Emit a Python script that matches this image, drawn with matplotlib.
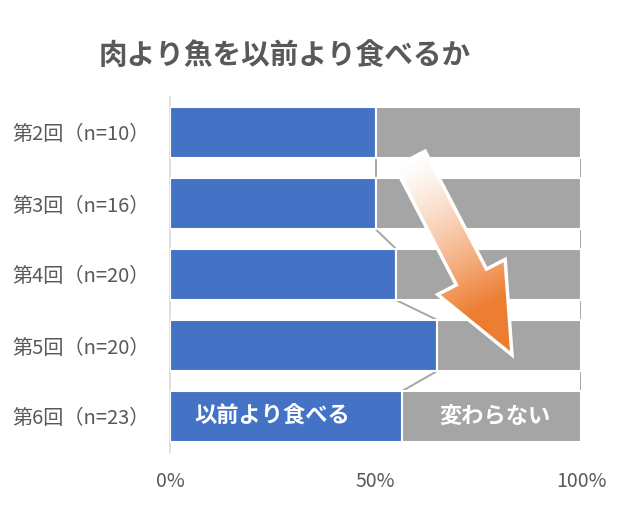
import numpy as np
import matplotlib
matplotlib.use('Agg')
from matplotlib import pyplot as plt
from matplotlib.patches import Polygon
from matplotlib.ticker import FuncFormatter

plt.rcParams['font.family'] = ['Noto Sans CJK JP', 'DejaVu Sans']

title = '肉より魚を以前より食べるか'
categories = ['第2回（n=10）', '第3回（n=16）', '第4回（n=20）', '第5回（n=20）', '第6回（n=23）']
n_total = [10, 16, 20, 20, 23]
n_more = [5, 8, 11, 13, 13]
series_names = ['以前より食べる', '変わらない']
x_ticks = [0, 50, 100]

more = np.array(n_more) / np.array(n_total) * 100
same = 100 - more

blue = '#4472C4'
gray = '#A5A5A5'
text_gray = '#595959'

W, H = 632, 507
fig = plt.figure(figsize=(W / 100, H / 100), dpi=100)
ax = fig.add_axes([170 / W, 1 - 452 / H, 411 / W, 355 / H])

y = np.arange(len(categories))
bh = 0.72
ax.barh(y, more, height=bh, color=blue, edgecolor='white', linewidth=1.5, zorder=3)
ax.barh(y, same, left=more, height=bh, color=gray, edgecolor='white', linewidth=1.5, zorder=3)

# series lines between bars
for i in range(len(y) - 1):
    for xv in (more, more + same):
        ax.plot([xv[i], xv[i + 1]], [y[i] + bh / 2, y[i + 1] - bh / 2],
                color='#A6A6A6', lw=1.4, zorder=2, solid_capstyle='butt')

ax.set_xlim(0, 100)
ax.set_ylim(len(y) - 0.5, -0.5)
ax.set_yticks(y)
ax.set_yticklabels(categories)
ax.set_xticks(x_ticks)
ax.xaxis.set_major_formatter(FuncFormatter(lambda v, p: f'{v:.0f}%'))
ax.tick_params(axis='y', length=0, pad=14.8, labelsize=14.5, labelcolor=text_gray)
ax.tick_params(axis='x', length=0, pad=14, labelsize=14, labelcolor=text_gray)
for s in ('top', 'right', 'bottom'):
    ax.spines[s].set_visible(False)
ax.spines['left'].set_color('#D9D9D9')
ax.spines['left'].set_linewidth(1.2)

# labels inside last bar
last = len(y) - 1
ax.text(more[last] / 2 - 3.5, y[last], series_names[0], color='white', fontsize=16,
        fontweight='bold', ha='center', va='center', zorder=5)
ax.text(more[last] + same[last] / 2 + 0.8, y[last], series_names[1], color='white', fontsize=16,
        fontweight='bold', ha='center', va='center', zorder=5)

fig.text(285 / W, 1 - 55 / H, title, ha='center', va='center', fontsize=20.6,
         fontweight='bold', color=text_gray)

# gradient arrow overlay in pixel coordinates
ov = fig.add_axes([0, 0, 1, 1], zorder=10)
ov.set_xlim(0, W)
ov.set_ylim(H, 0)
ov.axis('off')
ov.patch.set_alpha(0)

tail = np.array([410.0, 159.0])
tip = np.array([512.0, 355.0])
d = tip - tail
L = np.hypot(*d)
u = d / L
p = np.array([u[1], -u[0]])
sw, hw, hs = 17.0, 38.0, 133.0
local = [(0, -sw), (hs, -sw), (hs, -hw), (L, 0), (hs, hw), (hs, sw), (0, sw)]
pts = np.array([tail + a * u + b * p for a, b in local])

poly = Polygon(pts, closed=True, facecolor='none', edgecolor='white', lw=2.5, zorder=12)
ov.add_patch(poly)

xmin, ymin = pts.min(axis=0) - 2
xmax, ymax = pts.max(axis=0) + 2
gx, gy = np.meshgrid(np.linspace(xmin, xmax, 200), np.linspace(ymin, ymax, 200))
t = ((gx - tail[0]) * u[0] + (gy - tail[1]) * u[1]) / (L * 0.75)
t = np.clip(t, 0, 1) ** 1.3
c0 = np.array([1.0, 1.0, 1.0])
c1 = np.array(matplotlib.colors.to_rgb('#ED7D31'))
img = c0 + (c1 - c0) * t[..., None]
im = ov.imshow(img, extent=(xmin, xmax, ymax, ymin), origin='upper', zorder=11,
               interpolation='bilinear', aspect='auto')
clip = Polygon(pts, closed=True, transform=ov.transData)
im.set_clip_path(clip)
ov.set_xlim(0, W)
ov.set_ylim(H, 0)

fig.savefig('out.png', dpi=100)
